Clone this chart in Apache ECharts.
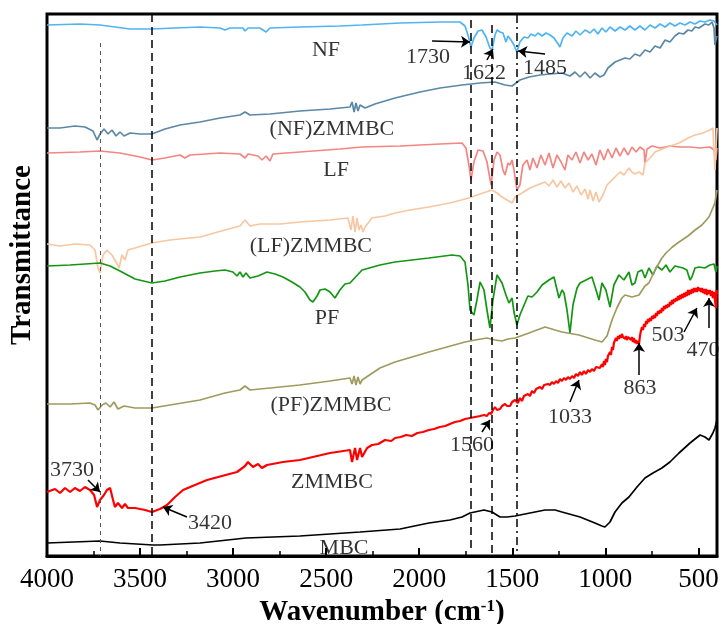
<!DOCTYPE html>
<html>
<head>
<meta charset="utf-8">
<script src="https://cdn.jsdelivr.net/npm/echarts@6/dist/echarts.min.js"></script>
<style>html,body{margin:0;padding:0;background:#fff}#chart{width:724px;height:624px}</style>
</head>
<body>
<div id="chart"></div>
<script>
// FTIR spectra, [wavenumber cm-1, transmittance (stacked offset, arb. units)]
var nf = [[4000,531],[3823,532],[3715,531],[3554,527],[3436,527],[3312,528],[3178,529],[3070,528],[3044,526],[3017,528],[2947,528],[2936,525],[2920,528],[2856,528],[2823,524],[2802,528],[2641,529],[2426,530],[2307,531],[2103,533],[1888,534],[1781,534],[1754,530],[1738,521],[1722,509],[1706,518],[1684,525],[1663,526],[1641,519],[1620,508],[1609,506],[1593,521],[1582,526],[1566,524],[1550,523],[1534,514],[1523,520],[1507,516],[1491,511],[1475,504],[1459,514],[1437,519],[1416,518],[1399,522],[1378,520],[1362,523],[1340,520],[1319,523],[1297,521],[1276,518],[1254,512],[1244,509],[1228,518],[1206,523],[1179,520],[1158,525],[1136,521],[1109,526],[1082,523],[1061,527],[1040,522],[1018,528],[997,524],[975,529],[948,525],[921,529],[894,526],[868,530],[841,526],[814,530],[787,526],[760,531],[733,528],[706,532],[679,529],[653,533],[626,530],[599,533],[572,531],[545,534],[518,532],[491,535],[465,534],[438,536],[416,535],[400,531]];
var nfZmmbc = [[4000,428],[3930,428],[3850,430],[3796,429],[3753,425],[3731,416],[3715,422],[3694,427],[3672,422],[3651,426],[3629,420],[3608,424],[3586,420],[3554,423],[3500,422],[3436,422],[3366,427],[3285,431],[3178,434],[3070,438],[2963,441],[2936,444],[2909,441],[2802,442],[2641,445],[2479,447],[2372,449],[2361,454],[2350,444],[2340,453],[2329,445],[2318,451],[2291,448],[2238,452],[2130,458],[1996,464],[1888,468],[1770,471],[1673,473],[1593,474],[1539,471],[1501,470],[1459,476],[1410,479],[1351,481],[1297,482],[1233,483],[1190,480],[1163,484],[1136,479],[1109,484],[1082,478],[1056,483],[1029,479],[1007,481],[986,488],[948,494],[894,498],[868,497],[841,502],[814,500],[787,506],[760,504],[733,510],[706,508],[679,516],[653,514],[626,520],[604,523],[580,522],[556,526],[535,525],[518,529],[497,528],[465,532],[443,531],[427,534],[416,528],[411,511],[406,516],[400,520]];
var lf = [[4000,403],[3823,404],[3715,405],[3608,403],[3500,399],[3436,396],[3366,398],[3285,401],[3259,398],[3232,401],[3070,403],[2963,402],[2936,398],[2920,402],[2866,400],[2845,396],[2823,400],[2802,395],[2786,402],[2641,404],[2426,407],[2307,409],[2103,410],[1888,412],[1770,413],[1749,408],[1733,391],[1722,376],[1706,394],[1684,406],[1657,405],[1636,394],[1614,371],[1598,396],[1582,404],[1566,401],[1550,386],[1539,381],[1523,393],[1512,391],[1501,396],[1491,386],[1475,366],[1459,371],[1443,391],[1421,396],[1405,386],[1389,398],[1367,388],[1346,401],[1324,391],[1303,403],[1281,388],[1260,401],[1238,394],[1217,386],[1201,401],[1179,396],[1158,404],[1136,393],[1115,404],[1093,396],[1072,402],[1050,391],[1029,406],[1007,396],[986,407],[964,398],[943,408],[921,400],[900,408],[878,401],[857,409],[835,404],[814,409],[792,406],[787,393],[776,407],[749,410],[706,408],[653,410],[599,409],[545,409],[491,408],[438,409],[416,406],[406,396],[400,408]];
var lfZmmbc = [[4000,312],[3930,310],[3850,312],[3769,311],[3742,306],[3726,288],[3715,283],[3699,301],[3678,306],[3651,301],[3629,294],[3613,288],[3597,301],[3581,296],[3565,306],[3527,308],[3473,311],[3436,313],[3339,316],[3178,319],[3044,326],[2963,330],[2936,336],[2909,330],[2856,332],[2748,332],[2641,334],[2479,336],[2383,338],[2367,326],[2356,340],[2345,324],[2334,338],[2324,326],[2313,331],[2302,324],[2291,329],[2254,338],[2184,340],[2130,343],[2050,346],[1948,349],[1835,353],[1733,358],[1673,362],[1609,366],[1582,363],[1555,359],[1528,356],[1501,353],[1485,359],[1448,363],[1405,368],[1351,372],[1324,374],[1303,370],[1281,376],[1260,369],[1238,375],[1217,368],[1195,373],[1174,364],[1152,370],[1131,361],[1109,367],[1093,357],[1082,366],[1066,355],[1050,364],[1034,354],[1013,361],[991,371],[964,376],[943,380],[921,384],[900,381],[873,388],[857,384],[841,382],[819,384],[798,381],[787,393],[760,398],[733,404],[679,408],[604,413],[556,418],[518,421],[475,423],[438,426],[422,428],[411,386],[406,406],[400,428]];
var pf = [[4000,290],[3876,291],[3715,293],[3661,290],[3608,285],[3527,277],[3436,273],[3366,275],[3285,279],[3178,283],[3097,285],[3044,286],[3001,284],[2979,280],[2963,284],[2947,279],[2931,283],[2909,278],[2866,280],[2818,284],[2775,282],[2732,279],[2684,274],[2641,269],[2614,264],[2587,256],[2571,254],[2549,260],[2533,266],[2506,267],[2479,264],[2453,258],[2426,266],[2399,272],[2372,273],[2307,286],[2211,291],[2130,294],[1948,298],[1824,301],[1781,300],[1754,294],[1738,271],[1727,246],[1706,241],[1690,256],[1673,274],[1652,266],[1636,246],[1620,228],[1604,256],[1582,281],[1555,273],[1534,261],[1518,253],[1501,258],[1491,244],[1475,231],[1459,241],[1432,253],[1416,260],[1394,259],[1367,264],[1340,271],[1303,276],[1276,279],[1249,258],[1233,266],[1222,263],[1206,246],[1190,223],[1174,251],[1152,268],[1136,273],[1104,276],[1072,279],[1050,266],[1034,256],[1018,273],[997,266],[975,249],[954,271],[927,281],[900,276],[873,284],[857,271],[841,273],[825,284],[803,286],[787,278],[766,288],[744,281],[723,290],[696,286],[674,291],[653,284],[626,290],[604,289],[583,288],[562,286],[545,276],[535,279],[518,288],[497,289],[465,288],[438,291],[416,292],[406,284],[400,290]];
var pfZmmbc = [[4000,152],[3876,152],[3769,153],[3742,151],[3726,146],[3704,151],[3683,153],[3661,149],[3640,154],[3619,147],[3586,150],[3527,148],[3436,148],[3339,151],[3178,156],[3044,163],[2963,166],[2936,170],[2909,166],[2802,168],[2641,171],[2479,175],[2372,178],[2361,172],[2350,180],[2340,171],[2329,179],[2318,172],[2307,176],[2211,188],[2130,194],[1948,204],[1754,214],[1700,216],[1636,218],[1593,216],[1555,215],[1523,217],[1485,218],[1410,223],[1324,229],[1270,226],[1233,224],[1142,221],[1056,216],[1018,214],[991,220],[964,236],[938,248],[911,258],[894,261],[857,259],[819,261],[787,270],[766,273],[733,286],[696,298],[674,303],[640,309],[604,314],[588,316],[556,320],[518,326],[481,331],[443,339],[427,346],[411,353],[400,366]];
var zmmbc = [[4000,64],[3957,67],[3930,63],[3903,68],[3876,64],[3850,68],[3823,65],[3796,69],[3769,66],[3747,61],[3731,49],[3715,56],[3694,61],[3678,66],[3661,68],[3645,56],[3635,49],[3619,53],[3597,48],[3581,52],[3565,48],[3527,48],[3473,46],[3436,44],[3393,47],[3355,51],[3312,59],[3269,66],[3205,71],[3140,76],[3060,80],[2979,84],[2936,90],[2920,94],[2893,89],[2866,92],[2845,88],[2818,91],[2732,94],[2641,96],[2479,103],[2372,106],[2361,94],[2345,108],[2334,96],[2318,108],[2307,99],[2280,108],[2254,111],[2220,112],[2184,116],[2150,115],[2130,118],[2100,119],[2070,121],[2040,120],[2010,123],[1980,124],[1948,126],[1920,127],[1890,129],[1860,130],[1835,132],[1808,134],[1780,135],[1754,137],[1727,138],[1700,139],[1673,140],[1652,141],[1636,140],[1625,143],[1614,142],[1604,146],[1593,149],[1582,146],[1566,147],[1555,150],[1545,148],[1539,152],[1528,150],[1512,150],[1501,154],[1491,152],[1485,156],[1470,153],[1459,158],[1448,155],[1437,160],[1427,158],[1416,162],[1405,160],[1394,165],[1383,163],[1372,167],[1362,165],[1351,169],[1340,167],[1329,171],[1319,169],[1308,172],[1297,171],[1287,174],[1276,172],[1265,175],[1254,173],[1244,177],[1233,175],[1222,178],[1211,176],[1201,179],[1190,177],[1179,180],[1168,178],[1158,182],[1147,180],[1136,184],[1126,181],[1115,185],[1104,182],[1093,186],[1082,184],[1072,187],[1061,185],[1050,189],[1040,187],[1029,188],[1018,192],[1013,189],[1007,195],[1002,191],[997,197],[991,194],[986,200],[980,198],[975,204],[970,201],[964,209],[959,206],[954,213],[948,214],[943,218],[938,215],[932,220],[927,217],[921,221],[916,218],[911,222],[905,219],[900,221],[894,217],[889,220],[884,216],[878,219],[873,218],[868,221],[862,216],[857,219],[852,214],[846,218],[841,213],[835,216],[830,212],[825,215],[819,212],[814,220],[809,225],[803,229],[798,226],[792,232],[787,229],[781,235],[776,232],[771,237],[766,234],[760,238],[755,235],[749,240],[744,237],[739,241],[733,238],[728,243],[723,240],[717,245],[712,242],[706,246],[701,243],[696,248],[690,245],[685,250],[679,247],[674,251],[669,248],[663,252],[658,249],[653,254],[647,251],[642,256],[637,252],[631,257],[626,254],[620,258],[615,255],[610,260],[604,256],[599,261],[594,257],[588,262],[583,258],[577,263],[572,259],[567,264],[561,260],[556,266],[551,261],[545,266],[540,262],[535,267],[529,263],[524,268],[518,264],[513,268],[508,264],[502,269],[497,265],[492,268],[486,264],[481,268],[475,263],[470,267],[465,262],[459,267],[454,261],[449,266],[443,262],[438,266],[433,260],[427,265],[422,258],[416,264],[411,262],[406,248],[402,266],[400,262]];
var mbc = [[4000,13],[3715,15],[3608,13],[3430,11],[3393,11],[3178,13],[2931,18],[2641,20],[2318,24],[2103,27],[1948,33],[1835,36],[1770,39],[1727,43],[1652,46],[1609,44],[1566,39],[1528,39],[1485,40],[1405,43],[1324,46],[1270,46],[1233,44],[1136,39],[1056,33],[1018,30],[1002,29],[975,34],[948,44],[911,53],[873,59],[830,69],[787,78],[744,83],[696,88],[653,94],[604,103],[545,113],[491,121],[465,119],[443,116],[422,123],[411,128],[400,136]];

var curveNames = ['NF', '(NF)ZMMBC', 'LF', '(LF)ZMMBC', 'PF', '(PF)ZMMBC', 'ZMMBC', 'MBC'];
var curveData = [nf, nfZmmbc, lf, lfZmmbc, pf, pfZmmbc, zmmbc, mbc];
var curveColors = ['#4fb4f0', '#5b88a7', '#f48682', '#f7c7a2', '#149614', '#a09a5e', '#ff0000', '#000000'];

// text, wavenumber, value
var curveLabels = [['NF', 2501, 506], ['(NF)ZMMBC', 2469, 427], ['LF', 2447, 386], ['(LF)ZMMBC', 2582, 310],
  ['PF', 2496, 238], ['(PF)ZMMBC', 2474, 151], ['ZMMBC', 2469, 74], ['MBC', 2404, 8]];
var peakLabels = [['1730', 1953, 499], ['1622', 1652, 483], ['1485', 1324, 488], ['3730', 3866, 86], ['3420', 3124, 33],
  ['1560', 1716, 111], ['1033', 1190, 139], ['863', 814, 168], ['503', 663, 221], ['470', 475, 206]];
// arrow tail -> head : wn1, v1, wn2, v2
var peakArrows = [[1931, 515, 1727, 514], [1636, 496, 1604, 507], [1324, 502, 1469, 505], [3780, 76, 3715, 64],
  [3248, 39, 3377, 49], [1663, 124, 1620, 136], [1190, 154, 1142, 176], [819, 181, 819, 213],
  [577, 224, 508, 248], [443, 228, 443, 258]];
// vertical guide lines: wavenumber, top, bottom
var guideWn = [3715, 3436, 1722, 1609, 1475];
var guideTop = [513, 542, 536, 531, 541];
var guideBottom = [0, 0, 6, 0, 0];

var serif = 'Liberation Serif';
var guideStyles = [
  {color: '#555', width: 1, type: [4, 4]},
  {color: '#000', width: 1.5, type: [8, 5]},
  {color: '#000', width: 1.5, type: [8, 5]},
  {color: '#000', width: 1.5, type: [8, 5]},
  {color: '#000', width: 1.5, type: [8, 4, 2, 4]}
];

var series = curveData.map(function (d, i) {
  return {
    name: curveNames[i], type: 'line', data: d, showSymbol: false, silent: true,
    lineStyle: {color: curveColors[i], width: i === 6 ? 2.2 : 1.7}, z: 2
  };
});
series[7].markLine = {
  silent: true, symbol: 'none', label: {show: false}, animation: false,
  data: guideWn.map(function (w, i) {
    return [{coord: [w, guideTop[i]], lineStyle: guideStyles[i]}, {coord: [w, guideBottom[i]]}];
  })
};
series.push({
  type: 'scatter', symbolSize: 1, itemStyle: {color: 'rgba(0,0,0,0)'}, silent: true, z: 5,
  label: {show: true, position: 'inside', color: '#000', fontFamily: serif, fontSize: 22},
  data: curveLabels.concat(peakLabels).map(function (l) {
    return {value: [l[1], l[2]], label: {formatter: l[0]}};
  }),
  markLine: {
    silent: true, symbol: ['none', 'arrow'], symbolSize: 9, label: {show: false}, animation: false,
    lineStyle: {color: '#000', width: 1.5, type: 'solid'},
    data: peakArrows.map(function (a) { return [{coord: [a[0], a[1]]}, {coord: [a[2], a[3]]}]; })
  }
});

var chart = echarts.init(document.getElementById('chart'));
chart.setOption({
  animation: false,
  grid: {left: 47, right: 7, top: 14, bottom: 68, show: true, borderColor: '#000', borderWidth: 3,
    outerBoundsMode: 'none', containLabel: false},
  xAxis: {
    type: 'value', inverse: true, min: 400, max: 4000, minInterval: 500, maxInterval: 500,
    axisLine: {lineStyle: {color: '#000', width: 3}},
    axisTick: {inside: true, length: 8, lineStyle: {color: '#000', width: 2}},
    minorTick: {show: true, splitNumber: 2, length: 5, lineStyle: {color: '#000', width: 1.5}},
    splitLine: {show: false},
    axisLabel: {color: '#000', fontFamily: serif, fontSize: 27, margin: 10,
      formatter: function (v) { return v === 400 ? '' : v; }},
    name: 'Wavenumber (cm{sup|-1})', nameLocation: 'middle', nameGap: 34,
    nameTextStyle: {color: '#000', fontFamily: serif, fontSize: 29, fontWeight: 'bold',
      rich: {sup: {fontFamily: serif, fontSize: 17, fontWeight: 'bold', verticalAlign: 'top'}}}
  },
  yAxis: {type: 'value', min: 0, max: 542, axisLine: {show: false}, axisTick: {show: false},
    axisLabel: {show: false}, splitLine: {show: false}},
  graphic: [{
    type: 'text', x: 23, y: 255, rotation: Math.PI / 2,
    style: {text: 'Transmittance', font: 'bold 29px "Liberation Serif"', fill: '#000',
      align: 'center', verticalAlign: 'middle', textAlign: 'center', textVerticalAlign: 'middle'}
  }],
  series: series
});
</script>
</body>
</html>
